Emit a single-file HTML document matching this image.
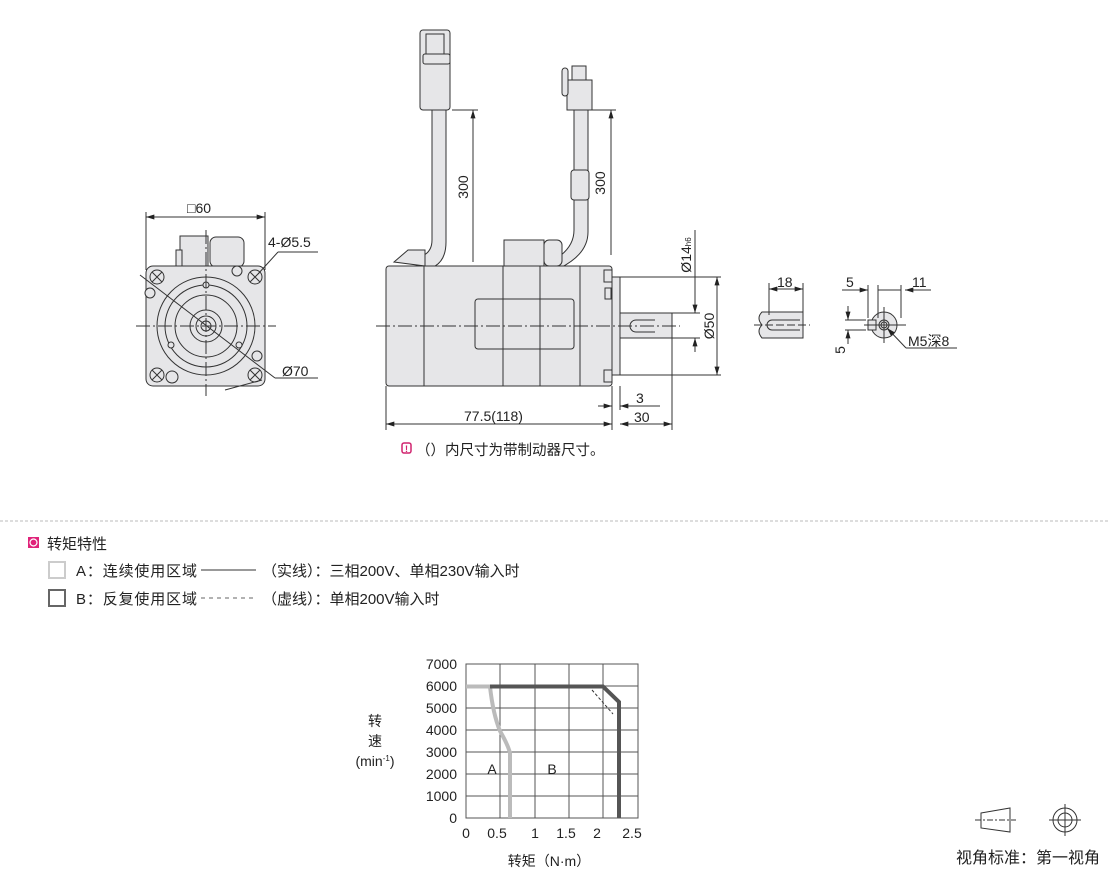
<!DOCTYPE html>
<html><head><meta charset="utf-8"><style>
body{margin:0;background:#fff;width:1110px;height:870px;overflow:hidden;font-family:"Liberation Sans","Noto Sans CJK SC",sans-serif}
svg{display:block}
text{font-family:"Liberation Sans","Noto Sans CJK SC",sans-serif;fill:#222}
</style></head><body>
<svg width="1110" height="870" viewBox="0 0 1110 870" xmlns="http://www.w3.org/2000/svg">
<defs>
<marker id="ar" viewBox="0 0 10 6" refX="10" refY="3" markerWidth="9" markerHeight="5" orient="auto-start-reverse"><path d="M0,0L10,3L0,6z" fill="#222"/></marker>
</defs>
<g stroke="#333" stroke-width="1" fill="none">
<line x1="146" y1="212" x2="146" y2="270"/><line x1="265" y1="212" x2="265" y2="270"/>
<line x1="146" y1="217" x2="265" y2="217" marker-start="url(#ar)" marker-end="url(#ar)"/>
<rect x="180" y="236" width="28" height="32" fill="#e6e6e8"/>
<rect x="176" y="250" width="6" height="18" fill="#e6e6e8"/>
<rect x="210" y="237" width="34" height="30" rx="6" fill="#e6e6e8"/>
<rect x="146" y="266" width="119" height="120" rx="7" fill="#e6e6e8"/>
<circle cx="206" cy="326" r="49"/><circle cx="206" cy="326" r="41"/><circle cx="206" cy="326" r="31"/>
<circle cx="206" cy="326" r="16"/><circle cx="206" cy="326" r="10"/><circle cx="206" cy="326" r="5"/>
<g fill="#e6e6e8">
<circle cx="157" cy="277" r="7"/><circle cx="255" cy="277" r="7"/><circle cx="157" cy="375" r="7"/><circle cx="255" cy="375" r="7"/>
<circle cx="150" cy="293" r="5"/><circle cx="237" cy="271" r="5"/><circle cx="257" cy="356" r="5"/><circle cx="172" cy="377" r="6"/>
<circle cx="206" cy="285" r="3"/><circle cx="171" cy="345" r="3"/><circle cx="239" cy="345" r="3"/>
</g>
<path d="M152,272l10,10M162,272l-10,10M250,272l10,10M260,272l-10,10M152,370l10,10M162,370l-10,10M250,370l10,10M260,370l-10,10"/>
<line x1="136" y1="326" x2="276" y2="326" stroke-dasharray="14,3,2,3"/>
<line x1="206" y1="230" x2="206" y2="396" stroke-dasharray="14,3,2,3"/>
<line x1="140" y1="275" x2="275" y2="378"/>
<line x1="275" y1="378" x2="318" y2="378"/>
<line x1="258" y1="274" x2="278" y2="252"/><line x1="278" y1="252" x2="318" y2="252"/>
<line x1="225" y1="390" x2="262" y2="380"/>
<path d="M432,110 L432,240 Q432,256 414,258 L418,270 Q446,270 446,242 L446,110Z" fill="#e6e6e8"/>
<rect x="420" y="30" width="30" height="80" rx="3" fill="#e6e6e8"/>
<rect x="423" y="54" width="27" height="10" rx="2"/>
<rect x="426" y="34" width="18" height="20"/>
<path d="M574,110 L574,230 Q574,250 550,262 L560,268 Q588,254 588,232 L588,110Z" fill="#e6e6e8"/>
<rect x="571" y="170" width="18" height="30" rx="3" fill="#e6e6e8"/>
<rect x="567" y="80" width="25" height="30" fill="#e6e6e8"/>
<rect x="572" y="66" width="14" height="14" fill="#e6e6e8"/>
<rect x="562" y="68" width="6" height="28" rx="3" fill="#e6e6e8"/>
<path d="M394,262 L408,250 L425,250 L425,266 Z" fill="#e6e6e8"/>
<rect x="504" y="240" width="40" height="28" fill="#e6e6e8"/>
<rect x="544" y="240" width="18" height="26" rx="5" fill="#e6e6e8"/>
<rect x="386" y="266" width="226" height="120" rx="3" fill="#e6e6e8"/>
<line x1="424" y1="266" x2="424" y2="386"/><line x1="503" y1="266" x2="503" y2="386"/><line x1="540" y1="266" x2="540" y2="386"/><line x1="580" y1="266" x2="580" y2="386"/>
<rect x="475" y="299" width="99" height="50" rx="3"/>
<rect x="604" y="270" width="8" height="12"/><rect x="604" y="370" width="8" height="12"/><rect x="605" y="288" width="6" height="11"/>
<rect x="612" y="277" width="8" height="98" fill="#e6e6e8"/>
<rect x="620" y="313" width="52" height="25" fill="#e6e6e8"/>
<path d="M655,320 L636,320 A6,6 0 0 0 636,332 L655,332"/>
<line x1="376" y1="326" x2="680" y2="326" stroke-dasharray="14,3,2,3"/>
<line x1="452" y1="110" x2="478" y2="110"/><line x1="473" y1="110" x2="473" y2="262" marker-start="url(#ar)"/>
<line x1="592" y1="110" x2="616" y2="110"/><line x1="611" y1="110" x2="611" y2="255" marker-start="url(#ar)"/>
<line x1="620" y1="313" x2="700" y2="313"/><line x1="620" y1="338" x2="700" y2="338"/>
<line x1="695" y1="230" x2="695" y2="313" marker-end="url(#ar)"/><line x1="695" y1="338" x2="695" y2="352" marker-start="url(#ar)"/>
<line x1="620" y1="277" x2="721" y2="277"/><line x1="620" y1="375" x2="721" y2="375"/>
<line x1="717" y1="277" x2="717" y2="375" marker-start="url(#ar)" marker-end="url(#ar)"/>
<line x1="386" y1="386" x2="386" y2="430"/><line x1="612" y1="386" x2="612" y2="430"/><line x1="620" y1="386" x2="620" y2="410"/><line x1="672" y1="338" x2="672" y2="430"/>
<line x1="386" y1="424" x2="612" y2="424" marker-start="url(#ar)" marker-end="url(#ar)"/>
<line x1="598" y1="406" x2="612" y2="406" marker-end="url(#ar)"/><line x1="620" y1="406" x2="660" y2="406" marker-start="url(#ar)"/>
<line x1="620" y1="424" x2="672" y2="424" marker-start="url(#ar)" marker-end="url(#ar)"/>
<path d="M762,312 L803,312 L803,338 L762,338 Q756,331 762,325 Q756,318 762,312Z" fill="#e6e6e8"/>
<path d="M800,320 L772,320 A4,4 0 0 0 772,330 L800,330"/>
<line x1="754" y1="325" x2="810" y2="325" stroke-dasharray="8,3"/>
<line x1="769" y1="283" x2="769" y2="315"/><line x1="803" y1="283" x2="803" y2="312"/>
<line x1="769" y1="289" x2="803" y2="289" marker-start="url(#ar)" marker-end="url(#ar)"/>
<circle cx="884" cy="325" r="13" fill="#e6e6e8"/><circle cx="884" cy="325" r="5"/><circle cx="884" cy="325" r="3"/>
<rect x="868" y="320" width="8" height="10" fill="#e6e6e8"/>
<line x1="864" y1="325" x2="906" y2="325"/><line x1="884" y1="307" x2="884" y2="343"/>
<line x1="868" y1="285" x2="868" y2="318"/><line x1="878" y1="285" x2="878" y2="318"/><line x1="901" y1="285" x2="901" y2="318"/>
<line x1="842" y1="290" x2="868" y2="290" marker-end="url(#ar)"/><line x1="878" y1="290" x2="901" y2="290"/><line x1="931" y1="290" x2="905" y2="290" marker-end="url(#ar)"/>
<line x1="845" y1="320" x2="866" y2="320"/><line x1="845" y1="330" x2="866" y2="330"/>
<line x1="848" y1="306" x2="848" y2="320" marker-end="url(#ar)"/><line x1="848" y1="344" x2="848" y2="330" marker-end="url(#ar)"/>
<line x1="887" y1="328" x2="906" y2="348" marker-start="url(#ar)"/><line x1="906" y1="348" x2="957" y2="348"/>
</g>
<g font-size="14">
<text x="187" y="213">□60</text>
<text x="268" y="247">4-Ø5.5</text>
<text x="282" y="376">Ø70</text>
<text x="472" y="187" transform="rotate(-90 472 187)" text-anchor="middle" dy="-4">300</text>
<text x="609" y="183" transform="rotate(-90 609 183)" text-anchor="middle" dy="-4">300</text>
<text x="691" y="255" transform="rotate(-90 691 255)" text-anchor="middle">Ø14<tspan font-size="8">h6</tspan></text>
<text x="714" y="326" transform="rotate(-90 714 326)" text-anchor="middle">Ø50</text>
<text x="464" y="421">77.5(118)</text>
<text x="636" y="403">3</text>
<text x="634" y="422">30</text>
<text x="777" y="287">18</text>
<text x="846" y="287">5</text>
<text x="912" y="287">11</text>
<text x="845" y="350" transform="rotate(-90 845 350)" text-anchor="middle">5</text>
<text x="908" y="346">M5深8</text>
</g>
<rect x="402" y="443" width="9" height="10" rx="2" fill="none" stroke="#d0246f" stroke-width="1.5"/>
<text x="406.5" y="452" font-size="9" text-anchor="middle" font-weight="bold" style="fill:#d0246f">!</text>
<text x="416" y="455" font-size="14.5">（）内尺寸为带制动器尺寸。</text>
<line x1="0" y1="521" x2="1110" y2="521" stroke="#bbb" stroke-dasharray="3,2"/>
<rect x="28" y="537" width="11" height="11" fill="#e0237a"/><circle cx="33.5" cy="542.5" r="3.5" fill="none" stroke="#fff" stroke-width="1.2"/>
<text x="47" y="549" font-size="15">转矩特性</text>
<rect x="49" y="562" width="16" height="16" fill="none" stroke="#ccc" stroke-width="2"/>
<rect x="49" y="590" width="16" height="16" fill="none" stroke="#666" stroke-width="2"/>
<text x="76" y="576" font-size="15" textLength="121">A：连续使用区域</text>
<line x1="201" y1="570" x2="256" y2="570" stroke="#333"/>
<text x="262" y="576" font-size="15">（实线）：三相200V、单相230V输入时</text>
<text x="76" y="604" font-size="15" textLength="121">B：反复使用区域</text>
<line x1="201" y1="598" x2="256" y2="598" stroke="#666" stroke-dasharray="4,4"/>
<text x="262" y="604" font-size="15">（虚线）：单相200V输入时</text>
<g stroke="#555" stroke-width="1" fill="none">
<rect x="466" y="664" width="172" height="154"/>
<path d="M500,664V818M535,664V818M569,664V818M603,664V818M466,686H638M466,708H638M466,730H638M466,752H638M466,774H638M466,796H638"/>
</g>
<path d="M466,686.5H490Q493,714 500,731Q508,745 510,753V818" stroke="#bbb" stroke-width="4" fill="none"/>
<path d="M490,686.5H603L619,702V818" stroke="#555" stroke-width="4" fill="none"/>
<line x1="592" y1="690" x2="613" y2="714" stroke="#333" stroke-dasharray="3,2"/>
<g font-size="14" text-anchor="end">
<text x="457" y="669">7000</text><text x="457" y="691">6000</text><text x="457" y="713">5000</text><text x="457" y="735">4000</text><text x="457" y="757">3000</text><text x="457" y="779">2000</text><text x="457" y="801">1000</text><text x="457" y="823">0</text>
</g>
<g font-size="14" text-anchor="middle">
<text x="466" y="838">0</text><text x="497" y="838">0.5</text><text x="535" y="838">1</text><text x="566" y="838">1.5</text><text x="597" y="838">2</text><text x="632" y="838">2.5</text>
<text x="492" y="774">A</text><text x="552" y="774">B</text>
<text x="375" y="726">转</text><text x="375" y="746">速</text>
<text x="375" y="766">(min<tspan font-size="8" dy="-5">-1</tspan><tspan dy="5">)</tspan></text>
<text x="549" y="866">转矩（N·m）</text>
</g>
<g stroke="#333" fill="none">
<path d="M981,813L1010,808V832L981,828Z"/>
<line x1="975" y1="820" x2="1016" y2="820" stroke-dasharray="6,2,2,2"/>
<circle cx="1065" cy="820" r="12"/><circle cx="1065" cy="820" r="7"/>
<line x1="1049" y1="820" x2="1081" y2="820"/><line x1="1065" y1="804" x2="1065" y2="836"/>
</g>
<text x="956" y="863" font-size="16">视角标准：第一视角</text>
</svg>
</body></html>
